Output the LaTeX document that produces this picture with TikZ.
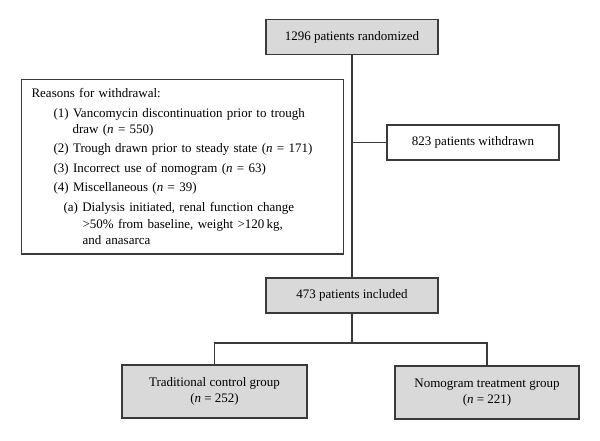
\documentclass[tikz,border=0pt]{standalone}
\usepackage{fontspec}
\setmainfont{Liberation Serif}
\definecolor{linegray}{HTML}{3A3A3A}
\definecolor{boxgray}{HTML}{D9D9D9}
\begin{document}
\begin{tikzpicture}[x=1pt,y=-1pt,
	every node/.style={font=\fontsize{13}{16.5}\selectfont},
	link/.style={draw=linegray,line width=1.1pt},
	plainbox/.style={draw=linegray,fill=white,line width=1.1pt,minimum width=172pt,minimum height=35pt,inner sep=0pt,align=center},
	graybox/.style={plainbox,fill=boxgray},
	reasonbox/.style={draw=linegray,line width=1.1pt,text width=302pt,inner xsep=10pt,inner ysep=9pt,align=left}]
	\useasboundingbox (0,0) rectangle (600,440);

	% draw boxes of the main column
	\node[graybox] (rand) at (352,37) {1296 patients randomized};
	\node[plainbox] (withdrawn) at (473,142.5) {823 patients withdrawn};
	\node[graybox] (included) at (352,295.5) {473 patients included};

	% draw the two groups
	\node[graybox,minimum width=185pt,minimum height=53pt] (control) at (214.5,391.5) {Traditional control group\\(\textit{n} = 252)};
	\node[graybox,minimum width=184pt,minimum height=53pt] (nomogram) at (487,392.5) {Nomogram treatment group\\(\textit{n} = 221)};

	% draw box with reasons for withdrawal
	\node[reasonbox,anchor=north west] (reasons) at (21,79) {%
		\parindent=0pt
		Reasons for withdrawal:\par
		\leftskip=41pt\parskip=2.8pt
		\hspace*{-19pt}(1) Vancomycin discontinuation prior to trough\newline draw (\textit{n} = 550)\par
		\hspace*{-19pt}(2) Trough drawn prior to steady state (\textit{n} = 171)\par
		\hspace*{-19pt}(3) Incorrect use of nomogram (\textit{n} = 63)\par
		\hspace*{-19pt}(4) Miscellaneous (\textit{n} = 39)\par
		\leftskip=51pt\parskip=4pt
		\hspace*{-19pt}(a) Dialysis initiated, renal function change\newline \textgreater 50\% from baseline, weight \textgreater 120\,kg,\newline and anasarca\par
		\vspace*{2pt}};

	% draw line from randomized to included and to withdrawn
	\draw[link] (rand) -- (included);
	\coordinate (tee) at (rand.south |- withdrawn.west);
	\draw[link] (tee) -- (withdrawn);

	% draw split into the two groups
	\coordinate (split) at (352,343);
	\draw[link] (included) -- (split);
	\draw[link] (control.north) |- (split) -| (nomogram.north);
\end{tikzpicture}
\end{document}
